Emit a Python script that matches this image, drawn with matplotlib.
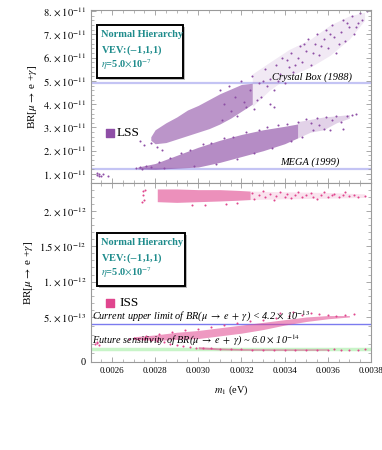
import numpy as np
import matplotlib
matplotlib.use("Agg")
from matplotlib import pyplot as plt
from matplotlib.patches import Rectangle

plt.rcParams['font.family'] = ['Liberation Serif', 'DejaVu Serif']
plt.rcParams['mathtext.fontset'] = 'stix'

# ---------------- data (m1 in eV, BR in 1e-11 for LSS, 1e-12 for ISS) ----------------
# LSS upper branch: dense core edges, sparse-region edges and single points
lss_up_m1 = [0.00278, 0.00280, 0.00285, 0.00290, 0.00295, 0.00300, 0.00305, 0.00310, 0.00315, 0.00320, 0.00325]
lss_up_lo = [2.45, 2.30, 2.35, 2.50, 2.65, 2.80, 2.95, 3.15, 3.40, 3.70, 4.00]
lss_up_hi = [2.60, 2.90, 3.20, 3.45, 3.75, 3.95, 4.20, 4.45, 4.65, 4.85, 4.90]
lss_up2_m1 = [0.00325, 0.00333, 0.00342, 0.00352, 0.00361, 0.00370, 0.00377]
lss_up2_lo = [3.90, 4.60, 5.20, 5.60, 6.10, 6.80, 7.60]
lss_up2_hi = [5.30, 5.80, 6.35, 6.80, 7.40, 7.80, 7.95]
lss_up_pts = [(0.00310, 4.6), (0.00311, 3.3), (0.00312, 4.0), (0.00314, 4.8), (0.00315, 3.7), (0.00317, 4.3),
              (0.00318, 3.5), (0.00320, 5.0), (0.00321, 4.1), (0.00322, 3.9), (0.00324, 4.6), (0.00325, 5.2),
              (0.00326, 3.8), (0.00327, 4.2), (0.00328, 4.9), (0.00329, 4.3), (0.00331, 5.5), (0.00332, 4.8),
              (0.00333, 5.1), (0.00333, 4.0), (0.00335, 4.6), (0.00335, 3.9), (0.00336, 5.7), (0.00338, 5.3),
              (0.00339, 6.0), (0.00340, 4.9), (0.00342, 5.6), (0.00343, 6.2), (0.00344, 5.4), (0.00346, 6.0),
              (0.00347, 6.5), (0.00348, 5.8), (0.00350, 6.3), (0.00351, 6.8), (0.00352, 5.7), (0.00354, 6.6),
              (0.00355, 7.0), (0.00356, 6.1), (0.00358, 6.8), (0.00359, 7.2), (0.00360, 6.4), (0.00362, 7.4),
              (0.00363, 6.9), (0.00364, 6.2), (0.00366, 7.1), (0.00367, 7.6), (0.00368, 6.7), (0.00370, 7.3),
              (0.00371, 7.8), (0.00372, 7.0), (0.00374, 7.5), (0.00375, 7.9), (0.00376, 7.6), (0.00378, 8.0),
              (0.00273, 2.40), (0.00275, 2.25), (0.00278, 2.35), (0.00281, 2.15), (0.00283, 2.05),
              (0.00330, 5.0), (0.00337, 5.0), (0.00341, 5.9), (0.00345, 5.7), (0.00349, 6.6), (0.00353, 6.2),
              (0.00357, 6.5), (0.00361, 7.0), (0.00365, 6.6), (0.00369, 7.5), (0.00373, 7.3)]
# LSS lower branch
lss_lo_m1 = [0.00272, 0.00280, 0.00290, 0.00300, 0.00310, 0.00320, 0.00330, 0.00340, 0.00346]
lss_lo_lo = [1.22, 1.20, 1.25, 1.30, 1.50, 1.75, 2.00, 2.30, 2.55]
lss_lo_hi = [1.30, 1.45, 1.80, 2.15, 2.45, 2.70, 2.90, 3.05, 3.15]
lss_lo2_m1 = [0.00346, 0.00352, 0.00358, 0.00364, 0.00370]
lss_lo2_lo = [2.55, 2.80, 2.90, 3.20, 3.40]
lss_lo2_hi = [3.25, 3.35, 3.45, 3.50, 3.55]
lss_lo_pts = [(0.00271, 1.25), (0.00273, 1.28), (0.00274, 1.22), (0.00276, 1.35), (0.00278, 1.30), (0.00282, 1.50),
              (0.00284, 1.25), (0.00287, 1.70), (0.00292, 1.90), (0.00296, 2.05), (0.00298, 1.35), (0.00302, 2.30),
              (0.00306, 2.35), (0.00308, 1.45), (0.00312, 2.55), (0.00316, 2.60), (0.00318, 1.65), (0.00322, 2.80),
              (0.00326, 1.90), (0.00328, 2.90), (0.00332, 3.00), (0.00334, 2.10), (0.00337, 3.10), (0.00341, 3.15),
              (0.00343, 2.40), (0.00346, 3.25), (0.00348, 2.60), (0.00350, 3.35), (0.00352, 3.20), (0.00353, 2.90),
              (0.00355, 3.40), (0.00356, 3.10), (0.00358, 2.95), (0.00359, 3.45), (0.00361, 2.90), (0.00362, 3.30),
              (0.00364, 3.50), (0.00366, 3.25), (0.00367, 2.95), (0.00369, 3.50), (0.00371, 3.55), (0.00373, 3.60),
              (0.00253, 0.95), (0.00254, 1.00), (0.00255, 0.92), (0.00253, 1.03), (0.00256, 0.98), (0.00254, 0.90),
              (0.00258, 0.93)]

# ISS upper band
iss_top_m1 = [0.00281, 0.00290, 0.00300, 0.00310, 0.00318, 0.00324]
iss_top_lo = [2.13, 2.12, 2.13, 2.14, 2.15, 2.16]
iss_top_hi = [2.31, 2.31, 2.30, 2.30, 2.29, 2.28]
iss_top2_m1 = [0.00324, 0.00340, 0.00360, 0.00377]
iss_top2_lo = [2.16, 2.17, 2.18, 2.19]
iss_top2_hi = [2.28, 2.27, 2.26, 2.24]
iss_top_pts = [(0.00325, 2.25), (0.00326, 2.17), (0.00328, 2.22), (0.00330, 2.28), (0.00331, 2.19), (0.00333, 2.24),
               (0.00335, 2.16), (0.00336, 2.21), (0.00338, 2.27), (0.00340, 2.20), (0.00341, 2.24), (0.00343, 2.18),
               (0.00345, 2.23), (0.00346, 2.26), (0.00348, 2.19), (0.00350, 2.22), (0.00352, 2.25), (0.00353, 2.20),
               (0.00355, 2.17), (0.00357, 2.23), (0.00358, 2.26), (0.00360, 2.20), (0.00362, 2.22), (0.00363, 2.24),
               (0.00365, 2.19), (0.00367, 2.23), (0.00368, 2.26), (0.00370, 2.21), (0.00372, 2.23), (0.00374, 2.20),
               (0.00377, 2.21), (0.002745, 2.28), (0.002745, 2.22), (0.00275, 2.16), (0.002755, 2.30),
               (0.00274, 2.12), (0.00297, 2.08), (0.00303, 2.09), (0.00313, 2.10), (0.00318, 2.11)]
# ISS lower bands
iss_rise_m1 = [0.00270, 0.00280, 0.00290, 0.00300, 0.00310, 0.00320, 0.00330, 0.00340, 0.00350, 0.00360, 0.00370]
iss_rise_lo = [0.25, 0.24, 0.25, 0.26, 0.29, 0.32, 0.36, 0.41, 0.45, 0.48, 0.50]
iss_rise_hi = [0.28, 0.30, 0.33, 0.35, 0.38, 0.41, 0.44, 0.47, 0.50, 0.52, 0.52]
iss_low_pts = [(0.00272, 0.26), (0.00275, 0.25), (0.00278, 0.24), (0.00281, 0.23), (0.00284, 0.22), (0.00287, 0.20),
               (0.00290, 0.19), (0.00293, 0.18), (0.00296, 0.17), (0.00299, 0.16), (0.00302, 0.155), (0.00306, 0.15),
               (0.00310, 0.145), (0.00315, 0.14), (0.00320, 0.14), (0.00325, 0.138), (0.00330, 0.137),
               (0.00335, 0.137), (0.00340, 0.136), (0.00345, 0.136), (0.00350, 0.137), (0.00355, 0.138),
               (0.00360, 0.137), (0.00363, 0.14), (0.00366, 0.136), (0.00370, 0.138), (0.00374, 0.137),
               (0.00377, 0.14), (0.00268, 0.26), (0.00270, 0.27), (0.00276, 0.29), (0.00282, 0.31), (0.00288, 0.33),
               (0.00294, 0.35), (0.00300, 0.37), (0.00306, 0.39), (0.00312, 0.41), (0.00318, 0.43), (0.00324, 0.45),
               (0.00330, 0.47), (0.00336, 0.49), (0.00342, 0.51), (0.00348, 0.53), (0.00352, 0.55), (0.00356, 0.54),
               (0.00360, 0.53), (0.00364, 0.52), (0.00368, 0.53), (0.00372, 0.54), (0.00338, 0.56), (0.00344, 0.57),
               (0.00252, 0.20), (0.00253, 0.21), (0.00254, 0.19), (0.00253, 0.22)]
iss_flat_m1 = [0.00300, 0.00310, 0.00320, 0.00330, 0.00340, 0.00350, 0.00360]
iss_flat_lo = [0.145, 0.135, 0.130, 0.130, 0.130, 0.130, 0.132]
iss_flat_hi = [0.170, 0.155, 0.148, 0.146, 0.145, 0.145, 0.145]

lss_limits = [4.9, 1.2]          # Crystal Box, MEGA (x1e-11)
iss_current = 0.42               # x1e-12
iss_future = 0.148               # x1e-12 (drawn position)

xticks = [0.0026, 0.0028, 0.0030, 0.0032, 0.0034, 0.0036, 0.0038]
xlim = (0.002503, 0.0038)

purple = '#8e4ea6'
pink = '#e0468e'
teal = '#1f8c8c'
frame = '#9a9a9a'

# ---------------- figure ----------------
fig = plt.figure(figsize=(3.82, 4.5), dpi=100)
ax1 = fig.add_axes([0.2382, 0.5927, 0.733, 0.3851])
ax2 = fig.add_axes([0.2382, 0.1949, 0.733, 0.3978])


def style(ax):
    for s in ax.spines.values():
        s.set_color(frame)
        s.set_linewidth(0.8)
    ax.tick_params(which='both', direction='in', top=True, right=True, color=frame)
    ax.tick_params(which='major', length=3.5, width=0.6)
    ax.tick_params(which='minor', length=2, width=0.5)
    ax.set_xlim(*xlim)
    ax.set_xticks(xticks)
    ax.set_xticks(np.arange(0.00255, 0.0038, 0.00005), minor=True)


def band(ax, x, lo, hi, color, alpha):
    ax.fill_between(x, lo, hi, color=color, alpha=alpha, lw=0)


def dots(ax, pts, color):
    a = np.array(pts)
    ax.scatter(a[:, 0], a[:, 1], s=2.2, color=color, lw=0)


# top panel: LSS
style(ax1)
band(ax1, lss_up_m1, lss_up_lo, lss_up_hi, purple, 0.6)
band(ax1, lss_up2_m1, lss_up2_lo, lss_up2_hi, purple, 0.12)
band(ax1, lss_lo_m1, lss_lo_lo, lss_lo_hi, purple, 0.65)
band(ax1, lss_lo2_m1, lss_lo2_lo, lss_lo2_hi, purple, 0.25)
dots(ax1, lss_up_pts, purple)
dots(ax1, lss_lo_pts, purple)
for v in lss_limits:
    ax1.axhline(v, color='#c4c4f4', lw=1.6, zorder=0)
ax1.set_ylim(0.6, 8.05)
ax1.set_yticks(range(1, 9))
ax1.set_yticklabels([r"$%d.\times10^{-11}$" % v for v in range(1, 9)], fontsize=7.5)
ax1.set_yticks(np.arange(0.6, 8.05, 0.2), minor=True)
ax1.set_xticklabels([])
ax1.set_ylabel(r"BR[$\mu\rightarrow$ e +$\gamma$]", fontsize=8, labelpad=3)
ax1.text(0.003712, 4.95, "Crystal Box (1988)", style='italic', fontsize=7.5, ha='right', va='bottom')
ax1.text(0.003656, 1.28, "MEGA (1999)", style='italic', fontsize=7.5, ha='right', va='bottom')

# bottom panel: ISS, axis stretched below 5e-13 as in the original
K = 90 / 70.8


def fwd(y):
    y = np.asarray(y, float)
    return np.where(y <= 0.5, y * K, 0.5 * K + (y - 0.5))


def inv(u):
    u = np.asarray(u, float)
    return np.where(u <= 0.5 * K, u / K, u - 0.5 * K + 0.5)


style(ax2)
ax2.set_yscale('function', functions=(fwd, inv))
band(ax2, iss_top_m1, iss_top_lo, iss_top_hi, pink, 0.6)
band(ax2, iss_top2_m1, iss_top2_lo, iss_top2_hi, pink, 0.15)
band(ax2, iss_rise_m1, iss_rise_lo, iss_rise_hi, pink, 0.55)
band(ax2, iss_flat_m1, iss_flat_lo, iss_flat_hi, pink, 0.6)
dots(ax2, iss_top_pts, pink)
dots(ax2, iss_low_pts, pink)
ax2.axhline(iss_current, color='#7b7bef', lw=1.0, zorder=0)
ax2.axhline(iss_future, color='#c8f4c8', lw=2.5, zorder=0)
ax2.set_ylim(-0.004, 2.39)
ax2.set_yticks([0, 0.5, 1, 1.5, 2])
ax2.set_yticklabels(["0", r"$5.\times10^{-13}$", r"$1.\times10^{-12}$", r"$1.5\times10^{-12}$",
                     r"$2.\times10^{-12}$"], fontsize=7.5)
ax2.set_yticks(np.arange(0.1, 2.39, 0.1), minor=True)
ax2.set_xticklabels(["%.4f" % v for v in xticks], fontsize=6.5)
ax2.set_ylabel(r"BR[$\mu\rightarrow$ e +$\gamma$]", fontsize=8, labelpad=3)
ax2.set_xlabel(r"$m_1$ (eV)", fontsize=7.5, labelpad=6)
ax2.text(0.002508, 0.425,
         r"Current upper limit of BR($\mu\;\rightarrow\;e\;+\;\gamma$) < 4.2 $\times$ 10$^{-13}$",
         style='italic', fontsize=7.4, ha='left', va='bottom')
ax2.text(0.002508, 0.16,
         r"Future sensitivity of BR($\mu\;\rightarrow\;e\;+\;\gamma$) ~ 6.0 $\times$ 10$^{-14}$",
         style='italic', fontsize=7.4, ha='left', va='bottom')


def info_box(ax, x0, y0, x1, y1, ys, label, color, mark_y, text_x):
    ax.add_patch(Rectangle((x0 + 0.006, y0 - 0.01), x1 - x0, y1 - y0, transform=ax.transAxes,
                           facecolor='#bbbbbb', edgecolor='none', zorder=4))
    ax.add_patch(Rectangle((x0, y0), x1 - x0, y1 - y0, transform=ax.transAxes,
                           facecolor='white', edgecolor='black', lw=1.4, zorder=5))
    lines = ["Normal Hierarchy", r"VEV:($-$1,1,1)", r"$\eta$=5.0$\times$10$^{-7}$"]
    for yy, t in zip(ys, lines):
        ax.text(x0 + 0.015, yy, t, transform=ax.transAxes, color=teal, fontweight='bold',
                fontsize=7.5, va='center', ha='left', zorder=6)
    ax.scatter([0.068], [mark_y], s=30, marker='s', color=color, transform=ax.transAxes, zorder=6)
    ax.text(text_x, mark_y, label, transform=ax.transAxes, fontsize=9.5, va='center', ha='left')


info_box(ax1, 0.0214, 0.608, 0.3286, 0.913, [0.856, 0.769, 0.683], "LSS", purple, 0.29, 0.093)
info_box(ax2, 0.0214, 0.426, 0.336, 0.722, [0.667, 0.583, 0.499], "ISS", pink, 0.33, 0.10)

fig.savefig("out.png", dpi=100)
